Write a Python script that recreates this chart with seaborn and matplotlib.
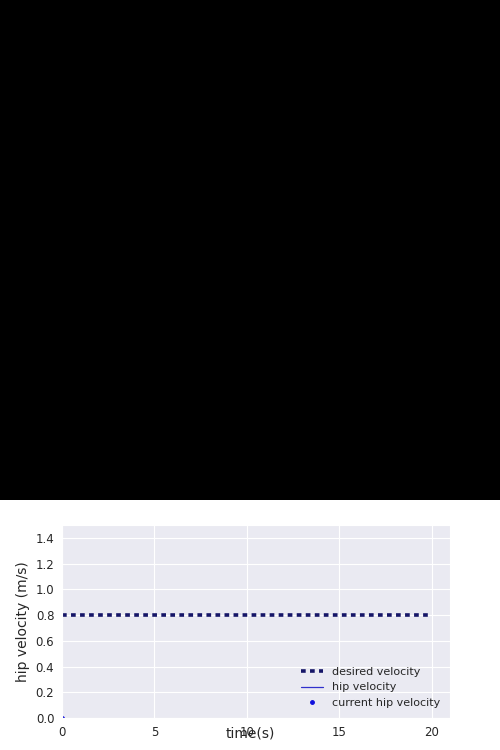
import numpy as np
import matplotlib
matplotlib.use('Agg')
import matplotlib.pyplot as plt
import seaborn as sns

# data
time_s = [0, 5, 10, 15, 20]
desired_velocity = [0.8, 0.8, 0.8, 0.8, 0.8]
hip_time = [0]
hip_velocity = [0.0]
current_time = [0]
current_hip_velocity = [0.0]

sns.set_style('darkgrid')
plt.rcParams['font.family'] = ['DejaVu Sans']

fig = plt.figure(figsize=(5, 7.5), dpi=100)

# black camera frame at the top
ax_img = fig.add_axes([0, 250 / 750, 1, 500 / 750])
ax_img.imshow(np.zeros((10, 10)), cmap='gray', vmin=0, vmax=1, aspect='auto')
ax_img.axis('off')

ax = fig.add_axes([62 / 500, 32 / 750, 388 / 500, 193 / 750])
sns.lineplot(x=time_s, y=desired_velocity, ax=ax, color='#161668', lw=2.6,
             linestyle=(0, (1.3, 1.2)), label='desired velocity')
ax.plot(hip_time, hip_velocity, color='#3030cc', lw=0.9, label='hip velocity')
ax.plot(current_time, current_hip_velocity, 'o', color='#1010dd', ms=2.5,
        label='current hip velocity')

ax.set_xlim(0, 21)
ax.set_ylim(0, 1.5)
ax.set_xticks([0, 5, 10, 15, 20])
ax.set_yticks([0.0, 0.2, 0.4, 0.6, 0.8, 1.0, 1.2, 1.4])
ax.tick_params(labelsize=8.5, pad=2)
ax.set_xlabel('time(s)', fontsize=10)
ax.xaxis.set_label_coords(0.485, -0.045)
ax.set_ylabel('hip velocity (m/s)', fontsize=10)
ax.legend(loc='lower right', frameon=False, fontsize=8)

plt.savefig('out.png', dpi=100)
